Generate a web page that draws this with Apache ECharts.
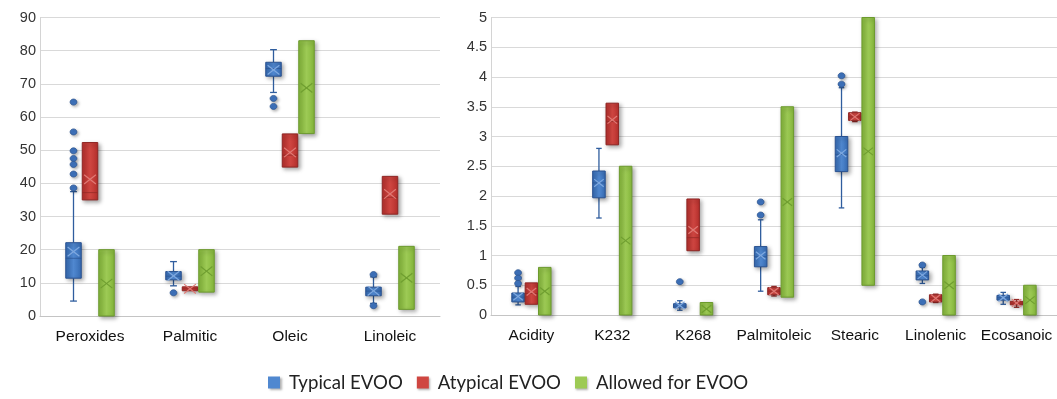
<!DOCTYPE html>
<html><head><meta charset="utf-8">
<script src="https://cdn.jsdelivr.net/npm/echarts@6/dist/echarts.min.js"></script>
<style>html,body{margin:0;padding:0;background:#fff}#c{width:1057px;height:399px}</style>
</head><body><div id="c"></div>
<script>
// ---------- DATA ----------
const leftCategories = ['Peroxides', 'Palmitic', 'Oleic', 'Linoleic'];
const rightCategories = ['Acidity', 'K232', 'K268', 'Palmitoleic', 'Stearic', 'Linolenic', 'Ecosanoic'];
const leftAxis = { min: 0, max: 90, interval: 10 };
const rightAxis = { min: 0, max: 5, interval: 0.5 };
const legendNames = ['Typical EVOO', 'Atypical EVOO', 'Allowed for EVOO'];

// [low whisker, Q1, median, Q3, high whisker, mean]
const typicalLeft = [
  [4.5, 11.4, 17.4, 22.1, 37.5, 19.4],
  [9.1, 10.9, 12.0, 13.4, 16.4, 12.1],
  [67.4, 72.3, 74.6, 76.5, 80.3, 74.2],
  [3.8, 6.1, 7.5, 8.7, 11.8, 7.6]
];
// [category index, value]
const typicalLeftOutliers = [
  [0, 64.5], [0, 55.5], [0, 49.8], [0, 47.5], [0, 45.7], [0, 42.8], [0, 38.6],
  [1, 7.0], [2, 65.6], [2, 63.2], [3, 12.5], [3, 3.1]
];
const atypicalLeft = [
  [35.0, 35.0, 37.2, 52.3, 52.3, 41.2],
  [7.6, 7.6, 8.2, 8.8, 8.8, 8.2],
  [44.9, 44.9, 48.5, 54.9, 54.9, 49.3],
  [30.7, 30.7, 35.8, 42.1, 42.1, 36.8]
];
// [low, high, middle]
const allowedLeft = [
  [0, 20, 9.8],
  [7.2, 20, 13.5],
  [55, 83, 68.8],
  [2.0, 21, 11.5]
];

const typicalRight = [
  [0.17, 0.22, 0.30, 0.37, 0.48, 0.31],
  [1.63, 1.97, 2.22, 2.42, 2.80, 2.22],
  [0.08, 0.12, 0.15, 0.19, 0.24, 0.16],
  [0.40, 0.81, 0.98, 1.15, 1.60, 1.00],
  [1.80, 2.41, 2.70, 3.00, 3.82, 2.72],
  [0.53, 0.59, 0.66, 0.74, 0.80, 0.67],
  [0.18, 0.25, 0.29, 0.33, 0.38, 0.29]
];
const typicalRightOutliers = [
  [0, 0.71], [0, 0.62], [0, 0.53], [2, 0.56], [3, 1.90], [3, 1.68],
  [4, 4.02], [4, 3.88], [5, 0.84], [5, 0.22]
];
const atypicalRight = [
  [0.18, 0.18, 0.36, 0.54, 0.54, 0.39],
  [2.86, 2.86, 3.25, 3.56, 3.56, 3.28],
  [1.08, 1.08, 1.30, 1.95, 1.95, 1.43],
  [0.32, 0.34, 0.40, 0.46, 0.48, 0.40],
  [3.25, 3.27, 3.33, 3.40, 3.41, 3.33],
  [0.21, 0.22, 0.28, 0.34, 0.35, 0.28],
  [0.13, 0.17, 0.20, 0.23, 0.26, 0.20]
];
const allowedRight = [
  [0, 0.8, 0.4],
  [0, 2.5, 1.25],
  [0, 0.21, 0.1],
  [0.3, 3.5, 1.9],
  [0.5, 5, 2.75],
  [0, 1, 0.5],
  [0, 0.5, 0.25]
];

// ---------- STYLE ----------
const OFF = { typical: -0.165, atypical: 0, allowed: 0.165 };
const STY = {
  typical:  { c1: '#356ab2', c2: '#5088d0', stroke: '#2a5290', mark: '#7fa9e0', line: '#2f5d9e' },
  atypical: { c1: '#b52f2c', c2: '#cf4641', stroke: '#8e2624', mark: '#e07a75', line: '#9a2a27' },
  allowed:  { c1: '#84b63a', c2: '#9dca55', stroke: '#6c9a2e', mark: '#6f9e30', line: '#6c9a2e' }
};
const SHADOW = { shadowBlur: 4, shadowOffsetX: 2, shadowOffsetY: 2, shadowColor: 'rgba(0,0,0,0.35)' };

function fill(s) {
  return new echarts.graphic.LinearGradient(0, 0, 1, 0, [
    { offset: 0, color: s.c1 }, { offset: 0.5, color: s.c2 }, { offset: 1, color: s.c1 }
  ]);
}

function makeBox(kind) {
  return function (params, api) {
    const i = api.value(0);
    const band = api.size([1, 0])[0];
    const cx = api.coord([i, 0])[0] + OFF[kind] * band;
    const w = band * 0.155;
    const Y = v => api.coord([i, v])[1];
    const s = STY[kind];
    const ch = [];
    let top, bot, mean;
    if (kind !== 'allowed') {
      const lo = Y(api.value(1)), q1 = Y(api.value(2)), md = Y(api.value(3)),
            q3 = Y(api.value(4)), hi = Y(api.value(5));
      mean = Y(api.value(6));
      top = q3; bot = q1;
      const cw = w * 0.22;
      const ls = { stroke: s.line, lineWidth: 1.3 };
      if (hi < q3 - 0.5) {
        ch.push({ type: 'line', shape: { x1: cx, y1: hi, x2: cx, y2: q3 }, style: ls });
        ch.push({ type: 'line', shape: { x1: cx - cw, y1: hi, x2: cx + cw, y2: hi }, style: ls });
      }
      if (lo > q1 + 0.5) {
        ch.push({ type: 'line', shape: { x1: cx, y1: q1, x2: cx, y2: lo }, style: ls });
        ch.push({ type: 'line', shape: { x1: cx - cw, y1: lo, x2: cx + cw, y2: lo }, style: ls });
      }
      ch.push({ type: 'rect', shape: { x: cx - w / 2, y: top, width: w, height: Math.max(bot - top, 3) },
        style: Object.assign({ fill: fill(s), stroke: s.stroke, lineWidth: 1 }, SHADOW) });
      ch.push({ type: 'line', shape: { x1: cx - w / 2, y1: md, x2: cx + w / 2, y2: md },
        style: { stroke: s.stroke, lineWidth: 1, opacity: 0.7 } });
    } else {
      top = Y(api.value(2)); bot = Y(api.value(1)); mean = Y(api.value(3));
      ch.push({ type: 'rect', shape: { x: cx - w / 2, y: top, width: w, height: bot - top },
        style: Object.assign({ fill: fill(s), stroke: s.stroke, lineWidth: 1 }, SHADOW) });
    }
    const xs = w * 0.38, ys = w * 0.3;
    const ms = { stroke: s.mark, lineWidth: 1.2 };
    ch.push({ type: 'line', shape: { x1: cx - xs, y1: mean - ys, x2: cx + xs, y2: mean + ys }, style: ms });
    ch.push({ type: 'line', shape: { x1: cx - xs, y1: mean + ys, x2: cx + xs, y2: mean - ys }, style: ms });
    return { type: 'group', children: ch };
  };
}

function outlierRender(params, api) {
  const i = api.value(0);
  const band = api.size([1, 0])[0];
  const cx = api.coord([i, 0])[0] + OFF.typical * band;
  const cy = api.coord([i, api.value(1)])[1];
  return { type: 'ellipse', shape: { cx: cx, cy: cy, rx: 3.4, ry: 3.0 },
    style: { fill: '#3f74bf', stroke: '#2c5592', lineWidth: 0.8,
      shadowBlur: 3, shadowOffsetX: 1.5, shadowOffsetY: 1.5, shadowColor: 'rgba(0,0,0,0.3)' } };
}

function boxSeries(name, kind, arr, g) {
  return {
    type: 'custom', name: name, xAxisIndex: g, yAxisIndex: g,
    itemStyle: { color: STY[kind].c2 },
    renderItem: makeBox(kind),
    encode: { x: 0, y: kind === 'allowed' ? [1, 2, 3] : [1, 2, 3, 4, 5, 6] },
    data: arr.map((r, i) => [i].concat(r)),
    clip: false
  };
}
function outSeries(arr, g) {
  return {
    type: 'custom', name: legendNames[0], xAxisIndex: g, yAxisIndex: g,
    itemStyle: { color: STY.typical.c2 },
    renderItem: outlierRender, encode: { x: 0, y: 1 }, data: arr, clip: false
  };
}

const catAxis = (cats, g) => ({
  type: 'category', gridIndex: g, data: cats,
  axisLine: { show: true, lineStyle: { color: '#c4c4c4', width: 1 } },
  axisTick: { show: false },
  axisLabel: { color: '#111', fontSize: 15.5, fontFamily: 'Arial', margin: 13, interval: 0 },
  splitLine: { show: false }
});
const valAxis = (ax, g) => ({
  type: 'value', gridIndex: g, min: ax.min, max: ax.max, interval: ax.interval,
  axisLine: { show: true, lineStyle: { color: '#d4d4d4', width: 1 } },
  axisTick: { show: false },
  axisLabel: { color: '#333', fontSize: 14.5, fontFamily: 'Arial', margin: 4 },
  splitLine: { show: true, lineStyle: { color: '#d9d9d9', width: 1 } }
});

const chart = echarts.init(document.getElementById('c'), null, { renderer: 'canvas' });
chart.setOption({
  animation: false,
  backgroundColor: '#fff',
  grid: [
    { left: 40, top: 17.5, width: 400, height: 298.5 },
    { left: 491, top: 17.5, width: 574, height: 297.5 }
  ],
  xAxis: [catAxis(leftCategories, 0), catAxis(rightCategories, 1)],
  yAxis: [valAxis(leftAxis, 0), valAxis(rightAxis, 1)],
  legend: {
    data: legendNames, left: 263, top: 368, icon: 'rect', itemWidth: 12, itemHeight: 12, itemGap: 14,
    textStyle: { fontSize: 18.6, color: '#222', fontFamily: 'Lato', padding: [0, 0, 0, 4] },
    itemStyle: { shadowBlur: 2, shadowOffsetX: 1.5, shadowOffsetY: 1.5, shadowColor: 'rgba(0,0,0,0.3)' }
  },
  series: [
    boxSeries(legendNames[0], 'typical', typicalLeft, 0),
    boxSeries(legendNames[1], 'atypical', atypicalLeft, 0),
    boxSeries(legendNames[2], 'allowed', allowedLeft, 0),
    outSeries(typicalLeftOutliers, 0),
    boxSeries(legendNames[0], 'typical', typicalRight, 1),
    boxSeries(legendNames[1], 'atypical', atypicalRight, 1),
    boxSeries(legendNames[2], 'allowed', allowedRight, 1),
    outSeries(typicalRightOutliers, 1)
  ]
});
</script></body></html>
